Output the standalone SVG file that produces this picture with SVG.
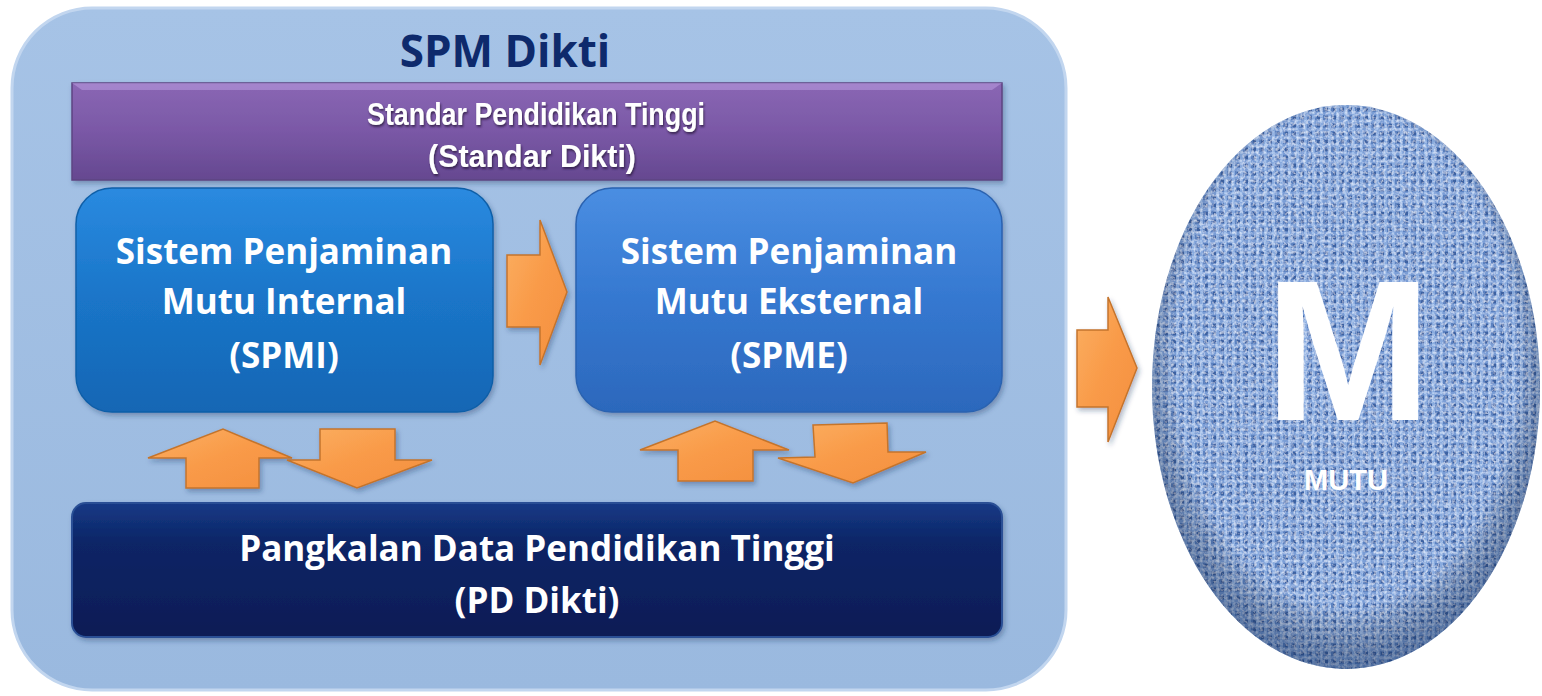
<svg xmlns="http://www.w3.org/2000/svg" width="1542" height="696" viewBox="0 0 1542 696">
<defs>
<style>
.t{font-family:"Open Sans","Liberation Sans",sans-serif;font-weight:bold;fill:#fff;text-anchor:middle}
.big{font-size:35px}
.pt{font-family:"Liberation Sans",Arial,sans-serif;font-weight:bold;font-size:31px;fill:#fff;text-anchor:middle;filter:url(#tsh)}
.arr{fill:url(#og);stroke:#c4742c;stroke-width:1.5;stroke-linejoin:miter;filter:url(#sh)}
</style>
<linearGradient id="outer" x1="0" y1="0" x2="0" y2="1">
<stop offset="0" stop-color="#a6c3e6"/><stop offset="1" stop-color="#9ab9df"/>
</linearGradient>
<linearGradient id="purp" x1="0" y1="0" x2="0" y2="1">
<stop offset="0" stop-color="#8a67b4"/><stop offset="0.5" stop-color="#7a58a6"/><stop offset="1" stop-color="#654890"/>
</linearGradient>
<linearGradient id="b1" x1="0" y1="0" x2="0" y2="1">
<stop offset="0" stop-color="#2a8ae0"/><stop offset="0.5" stop-color="#1a75c8"/><stop offset="1" stop-color="#1566b4"/>
</linearGradient>
<linearGradient id="b2" x1="0" y1="0" x2="0" y2="1">
<stop offset="0" stop-color="#4a8ee2"/><stop offset="0.5" stop-color="#3578d0"/><stop offset="1" stop-color="#2c68bc"/>
</linearGradient>
<linearGradient id="nav" x1="0" y1="0" x2="0" y2="1">
<stop offset="0" stop-color="#163a86"/><stop offset="0.3" stop-color="#0c2566"/><stop offset="1" stop-color="#081c55"/>
</linearGradient>
<linearGradient id="og" x1="0" y1="0" x2="1" y2="1">
<stop offset="0" stop-color="#fbb063"/><stop offset="0.5" stop-color="#f99a48"/><stop offset="1" stop-color="#f38f3e"/>
</linearGradient>
<filter id="sh" x="-20%" y="-20%" width="140%" height="150%">
<feDropShadow dx="2" dy="3" stdDeviation="2.5" flood-color="#1c3560" flood-opacity="0.35"/>
</filter>
<filter id="tsh" x="-10%" y="-30%" width="120%" height="160%">
<feDropShadow dx="1" dy="2" stdDeviation="1" flood-color="#2a1a40" flood-opacity="0.8"/>
</filter>
<filter id="tx" x="0" y="0" width="100%" height="100%">
<feTurbulence type="fractalNoise" baseFrequency="0.35 0.35" numOctaves="2" seed="3" result="n"/>
<feColorMatrix in="n" type="matrix" values="0 0 0 0 0.8  0 0 0 0 0.88  0 0 0 0 1  0 0 0 1.8 -0.75" result="light"/>
<feComposite in="light" in2="SourceGraphic" operator="in" result="lc"/>
<feMerge><feMergeNode in="SourceGraphic"/><feMergeNode in="lc"/></feMerge>
</filter>
<pattern id="weave" width="8" height="8" patternUnits="userSpaceOnUse">
<rect width="8" height="8" fill="#5b82c0"/>
<rect x="0" y="0" width="8" height="3" fill="#7a9dd5"/>
<rect x="0" y="0" width="3" height="8" fill="#88aade"/>
<rect x="5" y="4" width="3" height="3" fill="#3c62a2"/>
<rect x="0" y="0" width="2" height="2" fill="#a3c0ea"/>
</pattern>
<radialGradient id="cshade" cx="0.5" cy="0.45" r="0.55">
<stop offset="0.8" stop-color="#000" stop-opacity="0"/><stop offset="1" stop-color="#0d2a5a" stop-opacity="0.45"/>
</radialGradient>
</defs>

<g id="spm-dikti">
<rect x="12" y="8" width="1054" height="682" rx="80" fill="url(#outer)" stroke="#c2d6ef" stroke-width="3"/>
<text class="t" x="505" y="67" style="font-size:44px;fill:#0e2a6c">SPM Dikti</text>
</g>

<g id="standar">
<rect x="72" y="83" width="930" height="97" fill="url(#purp)" stroke="#5d4482" stroke-width="1.5" filter="url(#sh)"/>
<path d="M72 83 L1002 83 L992 90 L82 90 Z" fill="#b597dc" opacity="0.6"/>
<text class="pt" x="536" y="125" textLength="338" lengthAdjust="spacingAndGlyphs">Standar Pendidikan Tinggi</text>
<text class="pt" x="532" y="167" textLength="208" lengthAdjust="spacingAndGlyphs">(Standar Dikti)</text>
</g>

<g id="spmi">
<rect x="76" y="188" width="417" height="224" rx="36" fill="url(#b1)" stroke="#0f5fa8" stroke-width="1.5" filter="url(#sh)"/>
<text class="t big" x="284" y="264">Sistem Penjaminan</text>
<text class="t big" x="284" y="314">Mutu Internal</text>
<text class="t big" x="284" y="368">(SPMI)</text>
</g>

<g id="spme">
<rect x="576" y="188" width="426" height="224" rx="36" fill="url(#b2)" stroke="#2a62b0" stroke-width="1.5" filter="url(#sh)"/>
<text class="t big" x="789" y="264">Sistem Penjaminan</text>
<text class="t big" x="789" y="314">Mutu Eksternal</text>
<text class="t big" x="789" y="368">(SPME)</text>
</g>

<g id="pddikti">
<rect x="72" y="503" width="930" height="134" rx="14" fill="url(#nav)" stroke="#2a4f95" stroke-width="2" filter="url(#sh)"/>
<text class="t big" x="537" y="561">Pangkalan Data Pendidikan Tinggi</text>
<text class="t big" x="537" y="613">(PD Dikti)</text>
</g>

<g id="mutu">
<ellipse cx="1346" cy="387" rx="194" ry="282" fill="url(#weave)" filter="url(#tx)"/>
<ellipse cx="1346" cy="387" rx="194" ry="282" fill="url(#cshade)"/>
<text x="1348" y="420" style="font-family:'Liberation Sans',Arial,sans-serif;font-weight:bold;font-size:200px;fill:#fff;text-anchor:middle">M</text>
<text x="1346" y="490" style="font-family:'Liberation Sans',Arial,sans-serif;font-weight:bold;font-size:29px;fill:#fff;text-anchor:middle">MUTU</text>
</g>

<g id="connectors">
<path class="arr" d="M507 255 L540 255 L540 220 L567 292 L540 365 L540 327 L507 327 Z"/>
<path class="arr" d="M1077 330 L1108 330 L1108 297 L1137 368 L1108 442 L1108 407 L1077 407 Z"/>
<path class="arr" d="M186 488 L186 458 L148 458 L223 429 L292 458 L259 458 L259 488 Z"/>
<path class="arr" d="M320 429 L395 429 L395 460 L432 460 L357 488 L287 460 L320 460 Z"/>
<path class="arr" d="M678 481 L678 450 L640 450 L715 421 L789 450 L753 450 L753 481 Z"/>
<path class="arr" d="M813 425 L887 423 L888 452 L926 452 L853 483 L778 458 L815 457 Z"/>
</g>
</svg>
